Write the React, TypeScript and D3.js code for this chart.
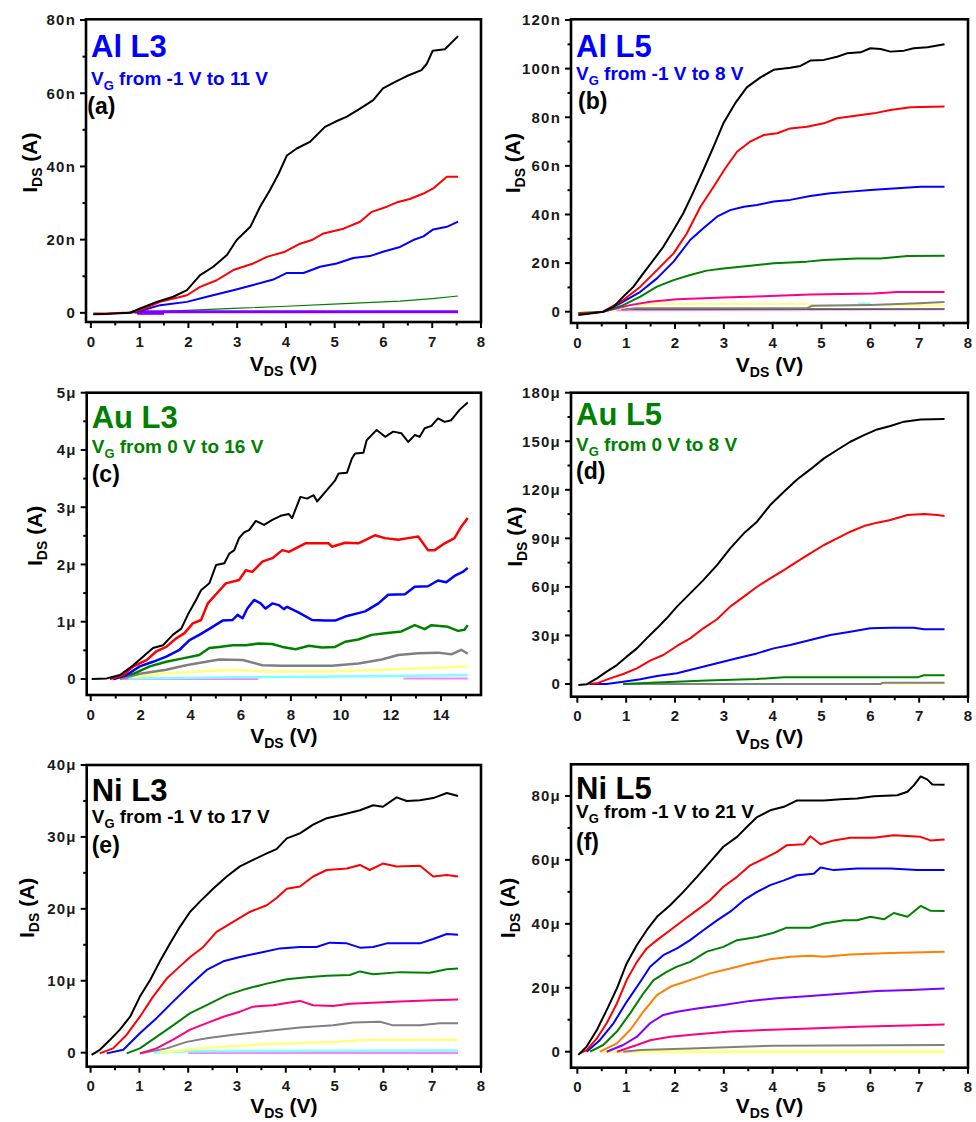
import React from "react";
import * as d3 from "d3";

type Pt = [number, number];

// ---------- Al L3 (I_DS in nA, V_DS in V) ----------
const alL3Black: Pt[] = [[0.05,-0.4],[0.3,-0.3],[0.8,0],[1.01,1.2],[1.35,3],[1.69,4.4],[1.97,6.2],[2.24,10.3],[2.51,12.6],[2.79,15.8],[2.99,19.9],[3.27,23.5],[3.47,29],[3.67,33.5],[3.85,38],[4.02,43],[4.22,44.9],[4.49,46.7],[4.8,50.8],[5.01,52.2],[5.25,53.6],[5.52,55.8],[5.79,58.1],[5.99,61.3],[6.24,63.1],[6.48,64.7],[6.78,66.3],[6.89,68.1],[7.01,71.6],[7.26,72],[7.53,75.6]];
const alL3Red: Pt[] = [[0.05,-0.2],[0.3,-0.2],[0.8,0.1],[1.01,0.7],[1.42,3],[1.97,4.8],[2.24,7.1],[2.58,8.9],[2.92,11.7],[3.33,13.5],[3.61,15.3],[3.98,16.7],[4.29,18.9],[4.53,19.9],[4.77,21.7],[5.18,23],[5.52,24.9],[5.76,27.6],[6.07,29],[6.3,30.3],[6.54,31.1],[6.82,32.6],[7.02,34],[7.3,37.2],[7.53,37.2]];
const alL3Blue: Pt[] = [[0.8,0],[1.01,0.5],[1.42,2.1],[1.97,3],[2.38,4.4],[2.92,6.2],[3.33,7.6],[3.74,9.1],[4.02,10.9],[4.36,10.9],[4.7,12.6],[5.04,13.5],[5.38,15],[5.72,15.5],[5.99,16.7],[6.34,18],[6.61,19.9],[6.82,20.9],[7.02,22.8],[7.3,23.5],[7.53,24.9]];
const alL3Green: Pt[] = [[0.9,0],[1.5,0.4],[2.92,1.2],[4.0,1.8],[4.97,2.4],[6.34,3.2],[7.0,3.9],[7.53,4.6]];
const alL3Purple: Pt[] = [[0.85,0.3],[7.53,0.3]];
const alL3PurpleLow: Pt[] = [[0.95,-0.2],[1.5,-0.2]];

// ---------- Al L5 (nA) ----------
const alL5Black: Pt[] = [[0.02,-1.4],[0.26,-0.7],[0.53,0],[0.74,2],[0.94,6.2],[1.15,10.3],[1.35,15.8],[1.56,21.3],[1.76,26.7],[1.97,33.6],[2.17,40.5],[2.38,49.4],[2.58,58.3],[2.79,67.9],[2.99,77.5],[3.23,85.7],[3.47,92.3],[3.75,96.4],[4.02,99.5],[4.36,100.4],[4.57,101.1],[4.77,103.3],[5.05,103.6],[5.32,104.9],[5.52,106.3],[5.8,106.7],[6.0,108.4],[6.21,108.1],[6.41,107],[6.69,107.4],[6.89,108.4],[7.17,108.8],[7.52,110]];
const alL5Red: Pt[] = [[0.02,-0.7],[0.3,-0.5],[0.53,0],[0.94,4.8],[1.29,10.3],[1.63,17.1],[1.97,24],[2.24,32.2],[2.52,43.2],[2.79,51.4],[3.03,59],[3.27,65.8],[3.54,70],[3.82,72.7],[4.09,73.4],[4.36,75.4],[4.7,76.1],[5.05,77.5],[5.32,79.6],[5.66,80.5],[6.07,81.6],[6.41,83],[6.82,84.1],[7.52,84.4]];
const alL5Blue: Pt[] = [[0.53,0],[0.94,4.1],[1.29,8.2],[1.63,13.7],[1.97,20.6],[2.31,29.5],[2.58,34.3],[2.86,39.1],[3.13,41.8],[3.41,43.2],[3.68,43.9],[4.02,45.3],[4.36,46],[4.77,47.6],[5.18,48.7],[5.59,49.4],[6.0,50.1],[6.55,50.8],[7.03,51.4],[7.52,51.4]];
const alL5Green: Pt[] = [[0.02,-0.5],[0.53,0],[0.94,2.7],[1.29,6.2],[1.63,10.3],[1.97,13],[2.31,15.1],[2.65,16.9],[2.99,17.8],[3.54,18.9],[4.02,19.9],[4.7,20.6],[5.05,21.3],[5.73,21.9],[6.21,21.9],[6.76,22.9],[7.52,23]];
const alL5Pink: Pt[] = [[0.53,0],[1.08,2.7],[1.49,4.1],[2.04,5.1],[2.99,5.8],[3.82,6.4],[4.77,7.1],[6.07,7.5],[6.55,8.1],[7.52,8.1]];
const alL5Yellow: Pt[] = [[1.2,2.5],[1.5,3.2],[4.7,3.2],[4.8,2.7],[7.52,2.7]];
const alL5Gray: Pt[] = [[0.9,0.8],[1.2,1.4],[4.7,1.4],[4.8,2.4],[6.0,2.8],[7.0,3.5],[7.52,4.0]];
const alL5DarkGray: Pt[] = [[1.0,1.0],[7.52,1.1]];
const alL5Violet: Pt[] = [[0.8,0.5],[7.52,0.9]];
const alL5Cyan: Pt[] = [[5.75,3.3],[6.0,3.3]];

// ---------- Au L3 (uA) ----------
const auL3Black: Pt[] = [[0.04,0],[0.64,0.01],[1.17,0.07],[1.7,0.24],[2.09,0.39],[2.49,0.54],[2.89,0.59],[3.28,0.77],[3.62,0.88],[3.88,1.12],[4.21,1.38],[4.41,1.55],[4.74,1.67],[5.01,1.99],[5.34,2.02],[5.54,2.19],[5.74,2.25],[5.93,2.46],[6.13,2.56],[6.33,2.6],[6.6,2.76],[6.93,2.69],[7.26,2.78],[7.59,2.85],[7.92,2.88],[8.05,2.81],[8.38,3.18],[8.65,3.15],[8.91,3.21],[9.05,3.1],[9.44,3.3],[9.77,3.47],[9.91,3.59],[10.24,3.6],[10.44,3.85],[10.57,3.94],[10.9,3.95],[11.03,4.17],[11.43,4.35],[11.77,4.23],[12.09,4.32],[12.42,4.29],[12.69,4.14],[12.95,4.26],[13.15,4.23],[13.35,4.38],[13.62,4.42],[13.88,4.55],[14.15,4.49],[14.41,4.52],[14.74,4.7],[15.07,4.83]];
const auL3Red: Pt[] = [[0.77,0],[1.3,0.07],[1.7,0.22],[2.23,0.33],[2.62,0.48],[3.02,0.56],[3.42,0.71],[3.75,0.8],[4.08,0.97],[4.41,1.03],[4.68,1.32],[5.01,1.48],[5.4,1.67],[5.93,1.73],[6.2,1.9],[6.46,1.87],[6.86,2.05],[7.26,2.11],[7.66,2.25],[7.92,2.22],[8.58,2.37],[9.51,2.37],[9.64,2.31],[10.17,2.38],[10.7,2.37],[11.36,2.51],[11.76,2.46],[12.29,2.43],[12.69,2.46],[13.09,2.49],[13.48,2.25],[13.75,2.25],[14.15,2.37],[14.54,2.46],[14.81,2.66],[15.07,2.81]];
const auL3Blue: Pt[] = [[0.9,0],[1.43,0.07],[1.96,0.22],[2.49,0.3],[3.02,0.39],[3.55,0.51],[3.95,0.68],[4.34,0.77],[4.87,0.91],[5.27,1.02],[5.67,1.03],[5.87,1.12],[6.07,1.06],[6.26,1.23],[6.53,1.38],[6.79,1.32],[6.99,1.23],[7.26,1.32],[7.52,1.29],[7.72,1.22],[7.85,1.26],[8.32,1.16],[8.85,1.03],[9.38,1.02],[9.77,1.02],[10.17,1.09],[10.7,1.15],[10.97,1.18],[11.5,1.32],[11.89,1.47],[12.56,1.48],[12.95,1.61],[13.48,1.62],[13.88,1.72],[14.21,1.69],[14.54,1.8],[14.87,1.87],[15.07,1.94]];
const auL3Green: Pt[] = [[0.9,0],[1.7,0.09],[2.36,0.22],[3.02,0.3],[3.68,0.36],[4.34,0.42],[4.74,0.54],[5.14,0.56],[5.67,0.59],[6.2,0.59],[6.73,0.62],[7.26,0.61],[7.66,0.56],[8.19,0.52],[8.72,0.58],[9.24,0.55],[9.77,0.56],[10.17,0.65],[10.7,0.69],[11.23,0.77],[11.76,0.8],[12.42,0.83],[12.95,0.94],[13.35,0.87],[13.62,0.94],[14.28,0.91],[14.68,0.84],[14.94,0.86],[15.07,0.94]];
const auL3Gray: Pt[] = [[1.17,0],[1.96,0.09],[3.02,0.16],[3.81,0.24],[4.61,0.3],[5.14,0.34],[6.07,0.33],[6.86,0.24],[7.66,0.23],[9.64,0.23],[10.7,0.27],[11.63,0.34],[12.29,0.42],[13.09,0.45],[13.88,0.46],[14.41,0.43],[14.81,0.51],[15.07,0.44]];
const auL3Yellow: Pt[] = [[1.7,0.04],[3.02,0.1],[4.34,0.13],[5.67,0.16],[6.99,0.13],[9.64,0.13],[11.63,0.16],[13.62,0.19],[15.07,0.22]];
const auL3Cyan: Pt[] = [[1.5,0.01],[6.0,0.03],[12.0,0.05],[15.07,0.07]];
const auL3Violet: Pt[] = [[1.3,0],[6.7,0]];
const auL3VioletEnd: Pt[] = [[12.5,0.01],[15.07,0.01]];

// ---------- Au L5 (uA) ----------
const auL5Black: Pt[] = [[0.02,-0.6],[0.19,-0.2],[0.4,3.5],[0.6,7.6],[0.81,11.7],[1.01,16.9],[1.22,22],[1.42,28.2],[1.63,34.4],[1.83,40.6],[2.04,47.8],[2.31,56],[2.58,64.2],[2.86,73.5],[3.13,83.8],[3.41,93.1],[3.68,100.3],[3.95,110.6],[4.23,118.8],[4.5,126.4],[4.77,132.6],[5.05,139.4],[5.32,144.6],[5.59,149.7],[5.87,153.8],[6.14,157.3],[6.41,159.4],[6.69,162.1],[7.03,163.5],[7.52,163.7]];
const auL5Red: Pt[] = [[0.19,0],[0.4,0.4],[0.67,3.5],[0.94,6.2],[1.22,9.7],[1.49,14.4],[1.76,17.9],[2.04,23.5],[2.31,28.2],[2.58,34.4],[2.86,40],[3.13,47.8],[3.41,54],[3.68,60.1],[3.95,65.3],[4.23,70.4],[4.5,75.6],[4.77,80.7],[5.05,85.9],[5.32,90],[5.59,94.1],[5.87,97.6],[6.14,99.7],[6.41,101.3],[6.76,104.4],[7.1,105],[7.37,104.4],[7.52,103.8]];
const auL5Blue: Pt[] = [[0.26,0],[0.6,0],[0.94,1.4],[1.29,2.9],[1.63,4.9],[2.04,6.6],[2.45,9.7],[2.86,12.8],[3.27,15.9],[3.68,18.9],[4.02,22],[4.36,24.1],[4.77,27.2],[5.18,30.3],[5.59,32.3],[6.0,34.4],[6.41,34.8],[6.89,34.8],[7.1,33.8],[7.52,33.8]];
const auL5Green: Pt[] = [[0.94,0],[1.63,1],[2.65,2.1],[3.68,3.1],[4.23,4.1],[5.73,4.1],[6.96,4.1],[7.1,5.4],[7.52,5.4]];
const auL5Gray: Pt[] = [[0.94,0],[6.21,0],[6.26,0.8],[7.52,0.8]];
const auL5Yellow: Pt[] = [[6.2,0.3],[7.52,0.3]];

// ---------- Ni L3 (uA) ----------
const niL3Black: Pt[] = [[0.02,-0.3],[0.19,0.4],[0.4,1.8],[0.6,3.2],[0.81,5],[1.01,7.8],[1.22,10.1],[1.42,12.7],[1.63,15.2],[1.83,17.5],[2.04,19.6],[2.24,21],[2.51,22.8],[2.79,24.5],[3.06,25.9],[3.33,26.8],[3.61,27.7],[3.81,28.3],[4.02,29.8],[4.29,30.5],[4.56,31.7],[4.84,32.6],[5.11,33],[5.52,33.7],[5.79,34.4],[5.99,34.2],[6.27,35.5],[6.48,35],[6.75,35.1],[7.02,35.4],[7.3,36.1],[7.53,35.7]];
const niL3Red: Pt[] = [[0.19,-0.1],[0.46,0.6],[0.74,2.5],[1.01,5],[1.28,7.8],[1.56,10.3],[1.83,12],[2.04,13.3],[2.31,14.7],[2.58,16.8],[2.92,18.2],[3.27,19.6],[3.61,20.5],[3.81,21.5],[4.02,22.8],[4.29,23.1],[4.56,24.5],[4.84,25.4],[5.25,25.6],[5.52,26.1],[5.72,25.4],[5.99,26.3],[6.27,25.9],[6.75,26],[7.02,24.5],[7.3,24.7],[7.53,24.5]];
const niL3Blue: Pt[] = [[0.33,-0.1],[0.67,0.4],[1.01,2.7],[1.35,4.8],[1.69,7.1],[2.04,9.4],[2.38,11.5],[2.72,12.7],[3.06,13.3],[3.47,13.9],[3.88,14.5],[4.29,14.7],[4.63,14.7],[4.9,15.3],[5.25,15.2],[5.52,14.6],[5.79,14.7],[6.07,15.2],[6.75,15.2],[7.02,15.8],[7.3,16.5],[7.53,16.4]];
const niL3Green: Pt[] = [[0.74,-0.1],[1.01,0.6],[1.35,2.2],[1.69,3.8],[2.04,5.5],[2.38,6.6],[2.79,8],[3.2,8.9],[3.61,9.6],[4.02,10.2],[4.43,10.5],[4.84,10.7],[5.31,10.8],[5.52,11.3],[5.79,10.9],[6.34,11.2],[6.95,11.1],[7.3,11.6],[7.53,11.7]];
const niL3Pink: Pt[] = [[1.01,-0.1],[1.35,0.6],[1.69,1.8],[2.04,3.2],[2.38,4.1],[2.72,5],[3.06,5.7],[3.33,6.4],[3.74,6.6],[4.02,6.9],[4.29,7.2],[4.56,6.6],[4.97,6.5],[5.31,6.8],[5.66,6.9],[6.34,7.1],[7.02,7.3],[7.53,7.4]];
const niL3Gray: Pt[] = [[1.01,-0.1],[1.56,0.6],[1.97,1.5],[2.38,2],[2.92,2.5],[3.61,3],[4.29,3.5],[4.97,3.8],[5.38,4.2],[5.93,4.3],[6.2,3.8],[6.75,3.8],[7.16,4.1],[7.53,4.1]];
const niL3Yellow: Pt[] = [[1.42,0],[2.24,0.6],[3.61,1.2],[4.97,1.5],[5.66,1.8],[7.53,1.8]];
const niL3Cyan: Pt[] = [[1.3,0],[2.0,0.2],[7.53,0.3]];
const niL3Violet: Pt[] = [[2.0,-0.05],[7.53,-0.05]];

// ---------- Ni L5 (uA) ----------
const niL5Black: Pt[] = [[0.02,-1],[0.19,1.6],[0.4,6.8],[0.6,13],[0.81,19.8],[1.01,27.6],[1.22,33.4],[1.42,38],[1.63,42.2],[1.9,45.8],[2.17,50],[2.45,54.7],[2.72,59.4],[2.99,64.1],[3.27,67.2],[3.47,70.3],[3.68,73.4],[3.95,75.5],[4.23,76.6],[4.5,78.6],[5.05,78.6],[5.39,79],[5.73,79.2],[6.07,79.9],[6.55,80.2],[6.76,81.3],[6.89,83.3],[7.03,86.1],[7.17,85.1],[7.27,83.6],[7.52,83.5]];
const niL5Red: Pt[] = [[0.05,-0.5],[0.19,0.5],[0.4,4.2],[0.6,8.9],[0.81,15.1],[1.01,22.4],[1.22,28.1],[1.42,32.3],[1.63,34.9],[1.9,38],[2.17,41.1],[2.45,44.3],[2.72,47.4],[2.99,51.6],[3.27,54.7],[3.54,58.3],[3.82,60.4],[4.09,62.5],[4.29,64.6],[4.64,64.9],[4.77,67.4],[4.98,64.9],[5.25,66.1],[5.59,66.9],[6.07,66.9],[6.48,67.7],[7.03,67.2],[7.23,66.1],[7.52,66.4]];
const niL5Blue: Pt[] = [[0.19,0],[0.46,3.6],[0.74,8.9],[1.01,15.6],[1.29,21.9],[1.49,26.6],[1.76,30.2],[2.04,32.3],[2.31,34.9],[2.58,38],[2.86,41.1],[3.13,43.8],[3.41,47.4],[3.68,50],[3.95,52.1],[4.23,53.6],[4.5,55.2],[4.84,55.7],[4.98,57.6],[5.25,56.8],[5.73,57.3],[6.41,57.3],[6.96,56.8],[7.52,56.8]];
const niL5Green: Pt[] = [[0.26,0],[0.53,2.1],[0.81,6.3],[1.08,12],[1.35,18.2],[1.56,22.4],[1.83,25],[2.04,26.6],[2.31,28.1],[2.65,31.3],[2.99,32.8],[3.27,34.9],[3.68,35.9],[4.02,37.2],[4.29,38.8],[4.77,38.8],[5.05,40.1],[5.46,41.1],[5.73,41.1],[6.0,42.2],[6.28,41.4],[6.48,43.4],[6.76,42.2],[7.03,45.6],[7.23,44.1],[7.52,44]];
const niL5Orange: Pt[] = [[0.46,0],[0.81,2.6],[1.08,6.8],[1.35,12.5],[1.63,17.7],[1.9,20.3],[2.31,22.4],[2.72,24.5],[3.13,26],[3.54,27.6],[3.95,28.9],[4.36,29.7],[4.77,30],[5.05,29.7],[5.59,30.4],[6.41,30.9],[7.52,31.3]];
const niL5Purple: Pt[] = [[0.6,0],[0.94,2.1],[1.22,4.7],[1.49,8.9],[1.76,11.5],[2.04,12.5],[2.45,13.5],[2.99,14.6],[3.54,15.9],[4.09,16.7],[4.77,17.4],[5.46,18.2],[6.14,19],[6.82,19.3],[7.52,19.8]];
const niL5Pink: Pt[] = [[0.81,0],[1.22,2.1],[1.49,3.6],[1.9,4.7],[2.45,5.5],[3.13,6.3],[3.82,6.8],[4.77,7.3],[5.73,7.8],[6.96,8.3],[7.52,8.5]];
const niL5Gray: Pt[] = [[0.94,0],[1.29,0.5],[2.31,1],[4.02,1.9],[7.52,2.1]];
const niL5Yellow: Pt[] = [[0.5,0],[7.52,0]];

// ---------- tick values ----------
const voltTicks8 = [0, 1, 2, 3, 4, 5, 6, 7, 8];
const voltMinor8 = [0.5, 1.5, 2.5, 3.5, 4.5, 5.5, 6.5, 7.5];
const voltTicks16 = [0, 2, 4, 6, 8, 10, 12, 14];
const voltMinor16 = [1, 3, 5, 7, 9, 11, 13, 15];
const alL3Ticks = [0, 20, 40, 60, 80];
const alL3Minor = [10, 30, 50, 70];
const alL5Ticks = [0, 20, 40, 60, 80, 100, 120];
const alL5Minor = [10, 30, 50, 70, 90, 110];
const auL3Ticks = [0, 1, 2, 3, 4, 5];
const auL3Minor = [0.5, 1.5, 2.5, 3.5, 4.5];
const auL5Ticks = [0, 30, 60, 90, 120, 150, 180];
const auL5Minor = [15, 45, 75, 105, 135, 165];
const niL3Ticks = [0, 10, 20, 30, 40];
const niL3Minor = [5, 15, 25, 35];
const niL5Ticks = [0, 20, 40, 60, 80];
const niL5Minor = [10, 30, 50, 70];

// ---------- colours ----------
const C = {
  black: "#000000",
  red: "#ff0000",
  blue: "#0000ff",
  green: "#008000",
  pink: "#ff0080",
  gray: "#808080",
  darkGray: "#505050",
  yellow: "#ffff80",
  cyan: "#80ffff",
  violet: "#ff80ff",
  orange: "#ff8000",
  purple: "#8000ff",
};

interface Series { pts: Pt[]; color: string; width: number }
interface Panel {
  key: string;
  title: string;
  titleColor: string;
  gate: string;
  letter: string;
  unit: string;
  box: { l: number; t: number; r: number; b: number };
  xDomain: [number, number];
  yDomain: [number, number];
  xTicks: number[];
  xMinor: number[];
  yTicks: number[];
  yMinor: number[];
  titleY: number;
  gateY: number;
  letterY: number;
  letterDx: number;
  yTitleDx: number;
  xTitleDy: number;
  series: Series[];
}

const panels: Panel[] = [
  {
    key: "a", title: "Al L3", titleColor: C.blue, gate: " from -1 V to 11 V", letter: "(a)", unit: "n",
    box: { l: 86, t: 19.3, r: 481, b: 322 }, xDomain: [-0.1, 8], yDomain: [-2.5, 80.2],
    xTicks: voltTicks8, xMinor: voltMinor8, yTicks: alL3Ticks, yMinor: alL3Minor,
    titleY: 38, gateY: 66, letterY: 94.5, letterDx: 1.3, yTitleDx: -49, xTitleDy: 49,
    series: [
      { pts: alL3Green, color: C.green, width: 1.2 },
      { pts: alL3PurpleLow, color: C.purple, width: 2.5 },
      { pts: alL3Purple, color: C.purple, width: 3 },
      { pts: alL3Blue, color: C.blue, width: 2 },
      { pts: alL3Red, color: C.red, width: 2 },
      { pts: alL3Black, color: C.black, width: 2 },
    ],
  },
  {
    key: "b", title: "Al L5", titleColor: C.blue, gate: " from -1 V to 8 V", letter: "(b)", unit: "n",
    box: { l: 571, t: 19.3, r: 968, b: 323 }, xDomain: [-0.13, 8], yDomain: [-4.65, 120.3],
    xTicks: voltTicks8, xMinor: voltMinor8, yTicks: alL5Ticks, yMinor: alL5Minor,
    titleY: 37.4, gateY: 61, letterY: 89.5, letterDx: 7, yTitleDx: -51, xTitleDy: 49,
    series: [
      { pts: alL5Violet, color: C.violet, width: 1.6 },
      { pts: alL5DarkGray, color: C.darkGray, width: 1.6 },
      { pts: alL5Yellow, color: C.yellow, width: 2 },
      { pts: alL5Cyan, color: C.cyan, width: 2 },
      { pts: alL5Gray, color: C.gray, width: 2 },
      { pts: alL5Pink, color: C.pink, width: 2 },
      { pts: alL5Green, color: C.green, width: 2 },
      { pts: alL5Blue, color: C.blue, width: 2 },
      { pts: alL5Red, color: C.red, width: 2 },
      { pts: alL5Black, color: C.black, width: 2 },
    ],
  },
  {
    key: "c", title: "Au L3", titleColor: C.green, gate: " from 0 V to 16 V", letter: "(c)", unit: "μ",
    box: { l: 86.7, t: 392.7, r: 481, b: 695 }, xDomain: [-0.16, 15.6], yDomain: [-0.28, 5],
    xTicks: voltTicks16, xMinor: voltMinor16, yTicks: auL3Ticks, yMinor: auL3Minor,
    titleY: 35.6, gateY: 60.6, letterY: 89.7, letterDx: 5, yTitleDx: -45, xTitleDy: 48,
    series: [
      { pts: auL3Violet, color: C.violet, width: 2 },
      { pts: auL3VioletEnd, color: C.violet, width: 2 },
      { pts: auL3Cyan, color: C.cyan, width: 2.5 },
      { pts: auL3Yellow, color: C.yellow, width: 2.5 },
      { pts: auL3Gray, color: C.gray, width: 2.5 },
      { pts: auL3Green, color: C.green, width: 2.5 },
      { pts: auL3Blue, color: C.blue, width: 2.5 },
      { pts: auL3Red, color: C.red, width: 2.5 },
      { pts: auL3Black, color: C.black, width: 2 },
    ],
  },
  {
    key: "d", title: "Au L5", titleColor: C.green, gate: " from 0 V to 8 V", letter: "(d)", unit: "μ",
    box: { l: 571, t: 392.7, r: 968, b: 696.7 }, xDomain: [-0.13, 8], yDomain: [-7.85, 180],
    xTicks: voltTicks8, xMinor: voltMinor8, yTicks: auL5Ticks, yMinor: auL5Minor,
    titleY: 32.3, gateY: 58.3, letterY: 86, letterDx: 5, yTitleDx: -49, xTitleDy: 47,
    series: [
      { pts: auL5Yellow, color: C.yellow, width: 2 },
      { pts: auL5Gray, color: C.gray, width: 2 },
      { pts: auL5Green, color: C.green, width: 2 },
      { pts: auL5Blue, color: C.blue, width: 2 },
      { pts: auL5Red, color: C.red, width: 2 },
      { pts: auL5Black, color: C.black, width: 2 },
    ],
  },
  {
    key: "e", title: "Ni L3", titleColor: C.black, gate: " from -1 V to 17 V", letter: "(e)", unit: "μ",
    box: { l: 86.7, t: 765, r: 481, b: 1066.7 }, xDomain: [-0.08, 8], yDomain: [-1.95, 40],
    xTicks: voltTicks8, xMinor: voltMinor8, yTicks: niL3Ticks, yMinor: niL3Minor,
    titleY: 35.7, gateY: 58.3, letterY: 87.5, letterDx: 5, yTitleDx: -53, xTitleDy: 46,
    series: [
      { pts: niL3Violet, color: C.violet, width: 2 },
      { pts: niL3Cyan, color: C.cyan, width: 2.5 },
      { pts: niL3Yellow, color: C.yellow, width: 2.5 },
      { pts: niL3Gray, color: C.gray, width: 2 },
      { pts: niL3Pink, color: C.pink, width: 2 },
      { pts: niL3Green, color: C.green, width: 2 },
      { pts: niL3Blue, color: C.blue, width: 2 },
      { pts: niL3Red, color: C.red, width: 2 },
      { pts: niL3Black, color: C.black, width: 2 },
    ],
  },
  {
    key: "f", title: "Ni L5", titleColor: C.black, gate: " from -1 V to 21 V", letter: "(f)", unit: "μ",
    box: { l: 571, t: 764.3, r: 968, b: 1067.7 }, xDomain: [-0.13, 8], yDomain: [-5, 89.9],
    xTicks: voltTicks8, xMinor: voltMinor8, yTicks: niL5Ticks, yMinor: niL5Minor,
    titleY: 35, gateY: 53.5, letterY: 85.5, letterDx: 5, yTitleDx: -56, xTitleDy: 45,
    series: [
      { pts: niL5Yellow, color: C.yellow, width: 3 },
      { pts: niL5Gray, color: C.gray, width: 2 },
      { pts: niL5Pink, color: C.pink, width: 2 },
      { pts: niL5Purple, color: C.purple, width: 2 },
      { pts: niL5Orange, color: C.orange, width: 2 },
      { pts: niL5Green, color: C.green, width: 2 },
      { pts: niL5Blue, color: C.blue, width: 2 },
      { pts: niL5Red, color: C.red, width: 2 },
      { pts: niL5Black, color: C.black, width: 2 },
    ],
  },
];

const FONT = "'Liberation Sans', Arial, Helvetica, sans-serif";
const TICK_COLOR = "#1a1a1a";

function PanelView({ p }: { p: Panel }) {
  const { box } = p;
  const x = d3.scaleLinear().domain(p.xDomain).range([box.l, box.r]);
  const y = d3.scaleLinear().domain(p.yDomain).range([box.b, box.t]);
  const line = d3.line<Pt>().x((d) => x(d[0])).y((d) => y(d[1]));
  const clipId = `clip-${p.key}`;
  const cx = (box.l + box.r) / 2;
  const cy = (box.t + box.b) / 2;
  const fmt = (v: number) => (v === 0 ? "0" : `${v}${p.unit}`);

  return (
    <g fontFamily={FONT} fontWeight="bold">
      <defs>
        <clipPath id={clipId}>
          <rect x={box.l} y={box.t} width={box.r - box.l} height={box.b - box.t} />
        </clipPath>
      </defs>

      {/* curves */}
      <g clipPath={`url(#${clipId})`}>
        {p.series.map((s, i) => (
          <path key={i} d={line(s.pts) ?? ""} fill="none" stroke={s.color}
            strokeWidth={s.width} strokeLinejoin="round" strokeLinecap="butt" />
        ))}
      </g>

      {/* frame */}
      <rect x={box.l} y={box.t} width={box.r - box.l} height={box.b - box.t}
        fill="none" stroke="#000" strokeWidth={2.6} />

      {/* x ticks */}
      {p.xTicks.map((v) => (
        <g key={`xt${v}`}>
          <line x1={x(v)} x2={x(v)} y1={box.b} y2={box.b + 6} stroke="#000" strokeWidth={2} />
          <text x={x(v)} y={box.b + 24.5} textAnchor="middle" fontSize={15} fill={TICK_COLOR}>{v}</text>
        </g>
      ))}
      {p.xMinor.map((v) => (
        <line key={`xm${v}`} x1={x(v)} x2={x(v)} y1={box.b} y2={box.b + 3.5} stroke="#000" strokeWidth={2} />
      ))}

      {/* y ticks */}
      {p.yTicks.map((v) => (
        <g key={`yt${v}`}>
          <line x1={box.l} x2={box.l - 6} y1={y(v)} y2={y(v)} stroke="#000" strokeWidth={2} />
          <text x={box.l - 10} y={y(v)} dy="0.36em" textAnchor="end" fontSize={15}
            letterSpacing={1.2} fill={TICK_COLOR}>{fmt(v)}</text>
        </g>
      ))}
      {p.yMinor.map((v) => (
        <line key={`ym${v}`} x1={box.l} x2={box.l - 3.5} y1={y(v)} y2={y(v)} stroke="#000" strokeWidth={2} />
      ))}

      {/* axis titles */}
      <text x={cx} y={box.b + p.xTitleDy} textAnchor="middle" fontSize={21} fill="#000" style={{ whiteSpace: "pre" }}>
        V<tspan dy={5} fontSize={14}>DS</tspan><tspan dy={-5}> (V)</tspan>
      </text>
      <text transform={`translate(${box.l + p.yTitleDx},${cy - 8}) rotate(-90)`} textAnchor="middle"
        fontSize={21} fill="#000" style={{ whiteSpace: "pre" }}>
        I<tspan dy={5} fontSize={14}>DS</tspan><tspan dy={-5}> (A)</tspan>
      </text>

      {/* in-plot labels */}
      <text x={box.l + 5} y={box.t + p.titleY} fontSize={31} fill={p.titleColor}>{p.title}</text>
      <text x={box.l + 5} y={box.t + p.gateY} fontSize={19} fill={p.titleColor} style={{ whiteSpace: "pre" }}>
        V<tspan dy={5} fontSize={13}>G</tspan><tspan dy={-5}>{p.gate}</tspan>
      </text>
      <text x={box.l + p.letterDx} y={box.t + p.letterY} fontSize={23} fill="#000">{p.letter}</text>
    </g>
  );
}

export default function App() {
  return (
    <div style={{ position: "absolute", left: 0, top: 0, width: 976, height: 1122, background: "#fff" }}>
      <svg width={976} height={1122} viewBox="0 0 976 1122" style={{ display: "block" }}>
        <rect width={976} height={1122} fill="#fff" />
        {panels.map((p) => (
          <PanelView key={p.key} p={p} />
        ))}
      </svg>
    </div>
  );
}
